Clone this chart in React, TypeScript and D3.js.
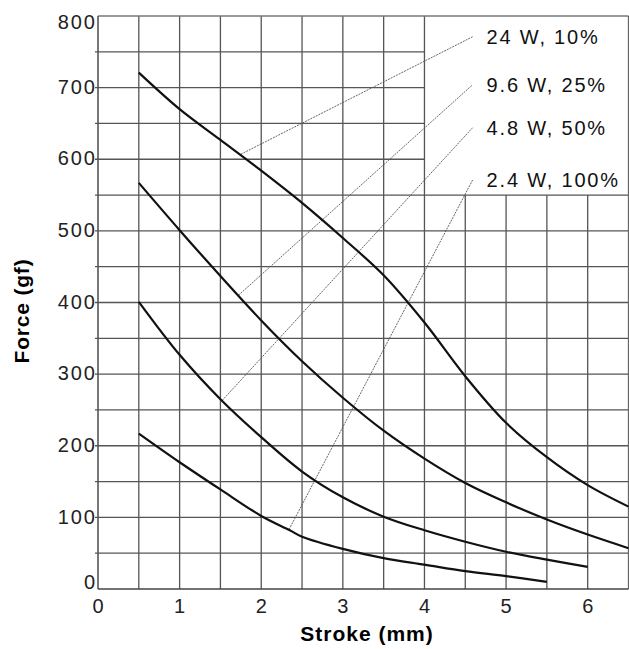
import * as d3 from "d3";

// stroke (mm) / force (gf)
const strokeHi = [0.5, 1, 1.5, 2, 2.5, 3, 3.5, 4, 4.5, 5, 5.5, 6, 6.5];
const force24W = [721, 670, 627, 584, 539, 490, 438, 372, 297, 232, 184, 145, 115];
const force96W = [567, 501, 437, 375, 318, 267, 221, 182, 148, 121, 97, 76, 57];

const stroke6 = [0.5, 1, 1.5, 2, 2.5, 3, 3.5, 4, 4.5, 5, 5.5, 6];
const force48W = [401, 327, 265, 212, 164, 128, 101, 82, 66, 52, 41, 31];

const strokeLo = [0.5, 1, 1.5, 2, 2.35, 2.5, 3, 3.5, 4, 4.5, 5, 5.5];
const force24Wlow = [217, 177, 139, 102, 82, 73, 56, 43, 34, 25, 18, 10];

const labels = ["24 W, 10%", "9.6 W, 25%", "4.8 W, 50%", "2.4 W, 100%"];
// leader lines: [start stroke, start force, end stroke, end force]
const leaders = [
  [1.75, 607, 4.59, 771],
  [1.72, 410, 4.59, 704],
  [1.52, 263, 4.59, 644],
  [2.34, 83, 4.59, 571],
];

const xTicks = [0, 1, 2, 3, 4, 5, 6];
const yTicks = [0, 100, 200, 300, 400, 500, 600, 700, 800];
const xGrid = d3.range(0.5, 6.5, 0.5);
const yGrid = d3.range(50, 800, 50);

const W = 629;
const H = 649;

export default function App() {
  const x = d3.scaleLinear().domain([0, 6.5]).range([98, 628.5]);
  const y = d3.scaleLinear().domain([0, 800]).range([589, 16]);

  const line = d3
    .line<[number, number]>()
    .x((d) => x(d[0]))
    .y((d) => y(d[1]))
    .curve(d3.curveCatmullRom.alpha(0.5));

  const series = [
    strokeHi.map((s, i) => [s, force24W[i]] as [number, number]),
    strokeHi.map((s, i) => [s, force96W[i]] as [number, number]),
    stroke6.map((s, i) => [s, force48W[i]] as [number, number]),
    strokeLo.map((s, i) => [s, force24Wlow[i]] as [number, number]),
  ];

  const font = "'Liberation Sans', Arial, sans-serif";
  const gridColor = "#555";

  return (
    <svg
      width={W}
      height={H}
      style={{ position: "absolute", left: 0, top: 0, background: "#fff" }}
      fontFamily={font}
    >
      <rect width={W} height={H} fill="#fff" />

      {/* grid; the label box (x > 4, force > 550) is left blank */}
      {yGrid.map((v) => (
        <line
          key={"h" + v}
          x1={x(0) - 3}
          x2={v > 550 ? x(4) : x(6.5)}
          y1={y(v)}
          y2={y(v)}
          stroke={gridColor}
          strokeWidth={1.3}
        />
      ))}
      {xGrid.map((v) => (
        <line
          key={"v" + v}
          x1={x(v)}
          x2={x(v)}
          y1={y(0)}
          y2={v > 4 ? y(550) : y(800)}
          stroke={gridColor}
          strokeWidth={1.3}
        />
      ))}

      {/* frame */}
      <line x1={x(0)} x2={x(6.5)} y1={y(800)} y2={y(800)} stroke="#777" strokeWidth={1.3} />
      <line x1={x(6.5)} x2={x(6.5)} y1={y(800)} y2={y(0)} stroke="#666" strokeWidth={1.3} />
      <line x1={x(0)} x2={x(0)} y1={y(800)} y2={y(0)} stroke="#555" strokeWidth={1.6} />
      <line x1={x(0)} x2={x(6.5)} y1={y(0)} y2={y(0)} stroke="#444" strokeWidth={1.6} />

      {/* leader lines */}
      {leaders.map((l, i) => (
        <line
          key={"l" + i}
          x1={x(l[0])}
          y1={y(l[1])}
          x2={x(l[2])}
          y2={y(l[3])}
          stroke="#555"
          strokeWidth={0.9}
          strokeDasharray="2 1"
        />
      ))}

      {/* curves */}
      {series.map((s, i) => (
        <path
          key={"c" + i}
          d={line(s) ?? ""}
          fill="none"
          stroke="#111"
          strokeWidth={2.2}
        />
      ))}

      {/* curve labels */}
      {labels.map((t, i) => (
        <text
          key={"t" + i}
          x={x(leaders[i][2]) + 14}
          y={y(leaders[i][3])}
          dy="0.36em"
          fontSize={20}
          letterSpacing={1.8}
          fill="#111"
        >
          {t}
        </text>
      ))}

      {/* y tick labels */}
      {yTicks.map((v) => (
        <text
          key={"y" + v}
          x={x(0) - 1}
          y={y(v) + (v === 800 ? 6 : v === 0 ? -7 : -1)}
          dy="0.36em"
          textAnchor="end"
          fontSize={20}
          letterSpacing={2}
          fill="#222"
        >
          {v}
        </text>
      ))}

      {/* x tick labels */}
      {xTicks.map((v) => (
        <text
          key={"x" + v}
          x={x(v)}
          y={613}
          textAnchor="middle"
          fontSize={20}
          fill="#222"
        >
          {v}
        </text>
      ))}

      {/* axis titles */}
      <text
        x={367}
        y={641}
        textAnchor="middle"
        fontSize={21}
        fontWeight="bold"
        letterSpacing={1}
        fill="#000"
      >
        Stroke (mm)
      </text>
      <text
        transform="translate(29,311) rotate(-90)"
        textAnchor="middle"
        fontSize={21}
        fontWeight="bold"
        letterSpacing={0.8}
        fill="#000"
      >
        Force (gf)
      </text>
    </svg>
  );
}
